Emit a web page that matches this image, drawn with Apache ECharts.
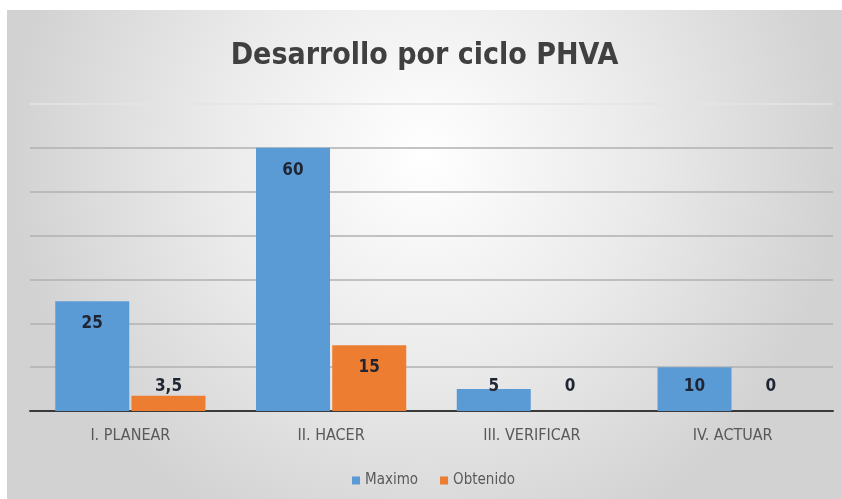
<!DOCTYPE html>
<html><head><meta charset="utf-8">
<script src="https://cdn.jsdelivr.net/npm/echarts@6/dist/echarts.min.js"></script>
<style>
html,body{margin:0;padding:0;background:#fff;width:842px;height:499px;overflow:hidden}
#c{position:absolute;left:7px;top:10px;width:835px;height:489px}
</style></head><body>
<div id="c"></div>
<script>
const categories = ['I. PLANEAR', 'II. HACER', 'III. VERIFICAR', 'IV. ACTUAR'];
const maximo = [25, 60, 5, 10];
const obtenido = [3.5, 15, 0, 0];
const seriesNames = ['Maximo', 'Obtenido'];
const titleText = 'Desarrollo por ciclo PHVA';

const FONT = '"Liberation Sans Narrow", "DejaVu Sans Condensed", sans-serif';
const fmt = v => String(v).replace('.', ',');
function withLabels(arr) {
  return arr.map(v => ({
    value: v,
    label: v >= 11 ? { position: 'insideTop', distance: 14 } : { position: 'insideBottom', distance: 16 }
  }));
}
const labelStyle = {
  show: true, color: '#1f2533', fontFamily: FONT, fontWeight: 'bold', fontSize: 17,
  formatter: p => fmt(p.value)
};
const chart = echarts.init(document.getElementById('c'));
chart.setOption({
  animation: false,
  backgroundColor: {
    type: 'radial', x: 0.5, y: 0.3, r: 0.85,
    colorStops: [{offset: 0, color: '#ffffff'}, {offset: 0.5, color: '#ebebeb'}, {offset: 1, color: '#d2d2d2'}]
  },
  title: {
    text: titleText, left: 'center', top: 26,
    textStyle: {fontFamily: FONT, fontWeight: 'bold', fontSize: 30, color: '#404040'}
  },
  legend: {
    data: seriesNames, bottom: 6, left: 340, itemWidth: 8, itemHeight: 8, itemGap: 22,
    icon: 'rect',
    textStyle: {fontFamily: FONT, fontSize: 15, color: '#595959'}
  },
  grid: {left: 23, right: 9, top: 94, bottom: 88, containLabel: false},
  xAxis: {
    type: 'category', data: categories,
    axisLine: {lineStyle: {color: '#3a3a3a', width: 2}},
    axisTick: {show: false},
    axisLabel: {fontFamily: FONT, fontSize: 16, color: '#595959', margin: 17}
  },
  yAxis: {
    type: 'value', min: 0, max: 70, interval: 10,
    axisLabel: {show: false}, axisLine: {show: false}, axisTick: {show: false},
    splitLine: {lineStyle: {color: ['#b0b0b0','#b0b0b0','#b0b0b0','#b0b0b0','#b0b0b0','#b0b0b0','#b0b0b0','#e4e4e4'], width: 1.5}}
  },
  series: [
    {name: seriesNames[0], type: 'bar', data: withLabels(maximo), barWidth: 74, barGap: '3%',
     itemStyle: {color: '#5b9bd5'}, label: labelStyle},
    {name: seriesNames[1], type: 'bar', data: withLabels(obtenido), barWidth: 74, barGap: '3%',
     itemStyle: {color: '#ed7d31'}, label: labelStyle}
  ]
});
</script></body></html>
